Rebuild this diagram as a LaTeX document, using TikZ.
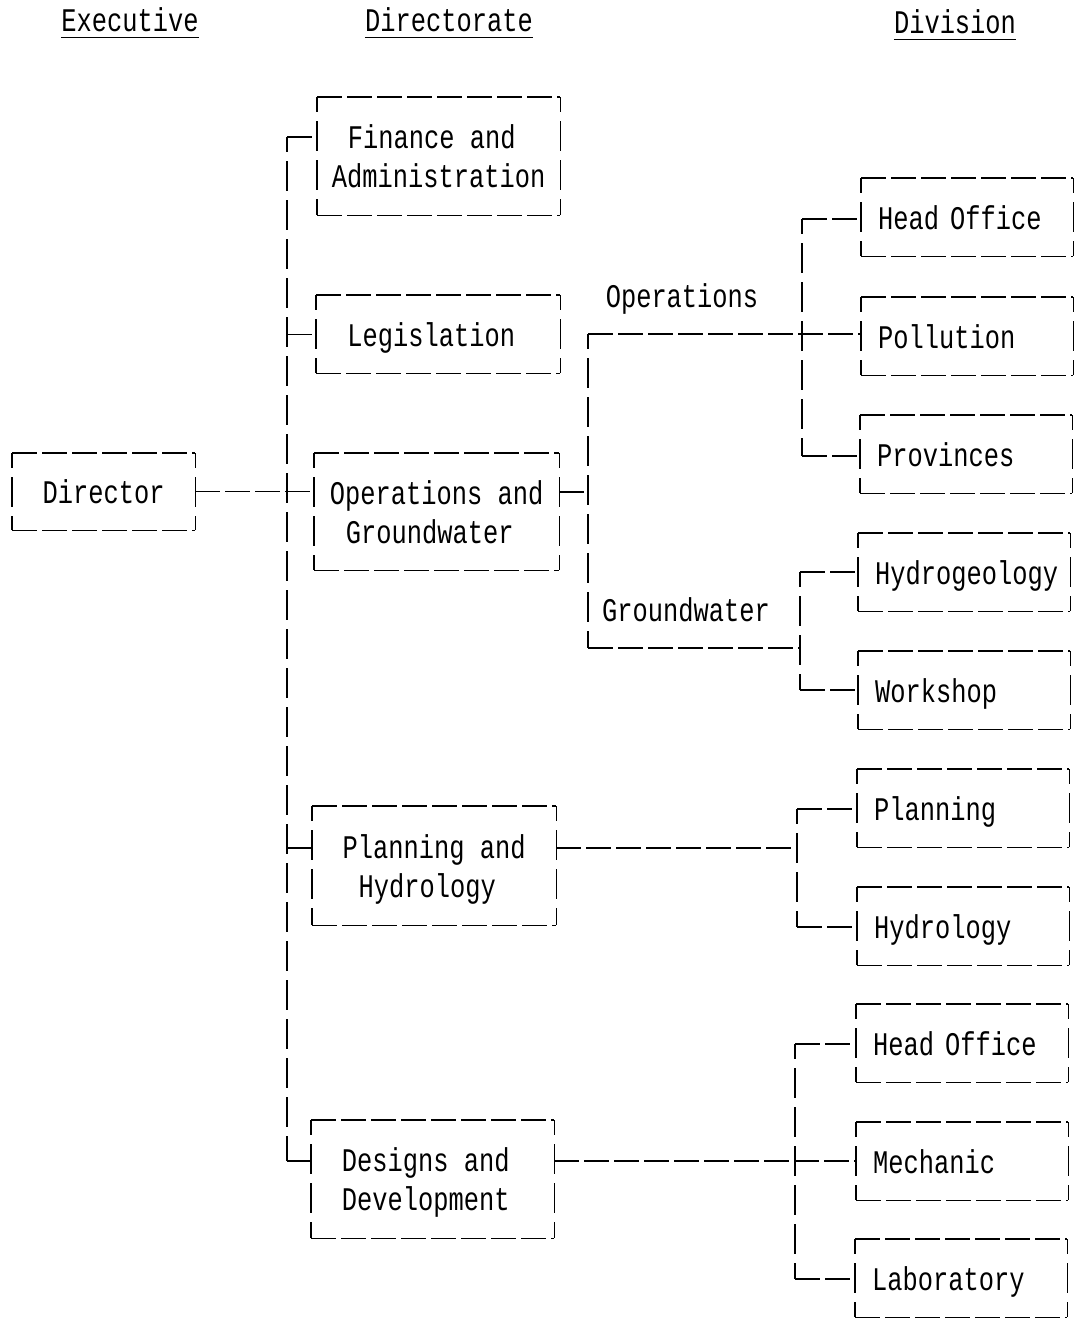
\documentclass[tikz,border=0pt]{standalone}
\usepackage{fontspec}
\newfontfamily\chartfont[FakeStretch=0.77]{Liberation Mono}
\usetikzlibrary{calc}
\newcommand{\lsh}{\hspace*{14pt}}
\begin{document}
\begin{tikzpicture}[x=1pt,y=-1pt,
  hd/.style={line width=1.3pt, dash pattern=on 25pt off 5pt},
  vd/.style={line width=1.3pt, dash pattern=on 30pt off 9pt, dash phase=15pt},
  txt/.style={font=\chartfont\fontsize{33}{39}\selectfont, inner sep=0pt, text depth=0pt},
  lbox/.style 2 args={txt, anchor=north west, minimum width=#1pt, minimum height=#2pt, align=center},
  rbox/.style={txt, anchor=north west, minimum width=212pt, minimum height=78pt, inner xsep=17pt, text width=178pt, align=left},
  head/.style={txt}]
\useasboundingbox (0,0) rectangle (1076,1318);
\fill[white] (0,0) rectangle (1076,1318);

% headers
\node[head] (hexe) at (130,20) {Executive};
\node[head] (hdir) at (449,20) {Directorate};
\node[head] (hdiv) at (955,22) {Division};
\foreach \h in {hexe,hdir,hdiv}
  \draw[line width=1.2pt] ([yshift=-5pt]\h.south west) -- ([yshift=-5pt]\h.south east);

% executive / directorate boxes
\node[lbox={183}{77}]  (dir) at (12,453)  {Director};
\node[lbox={243}{118}] (fin) at (317,97)  {Finance and\lsh\\Administration};
\node[lbox={244}{78}]  (leg) at (316,295) {Legislation\lsh};
\node[lbox={245}{117}] (ops) at (314,453) {Operations and\\Groundwater\lsh};
\node[lbox={244}{119}] (pla) at (312,806) {Planning and\\Hydrology\lsh};
\node[lbox={243}{118}] (des) at (311,1120) {Designs and\lsh\\Development\lsh};

% division boxes
\node[rbox] (r1)  at (861,178)  {Head Office};
\node[rbox] (r2)  at (861,297)  {Pollution};
\node[rbox] (r3)  at (860,415)  {Provinces};
\node[rbox] (r4)  at (858,533)  {Hydrogeology};
\node[rbox] (r5)  at (858,651)  {Workshop};
\node[rbox] (r6)  at (857,769)  {Planning};
\node[rbox] (r7)  at (857,887)  {Hydrology};
\node[rbox] (r8)  at (856,1004) {Head Office};
\node[rbox] (r9)  at (856,1122) {Mechanic};
\node[rbox] (r10) at (855,1239) {Laboratory};

\foreach \n in {dir,fin,leg,ops,pla,des,r1,r2,r3,r4,r5,r6,r7,r8,r9,r10} {
  \draw[hd] (\n.north west) -- (\n.north east);
  \draw[hd] (\n.south west) -- (\n.south east);
  \draw[vd] (\n.north west) -- (\n.south west);
  \draw[vd] (\n.north east) -- (\n.south east);
}

% section labels
\node[txt] (lop) at (682,296) {Operations};
\node[txt] (lgw) at (686,610) {Groundwater};

% trunk
\coordinate (j1) at (287,137);
\coordinate (j4) at (287,848);
\coordinate (j5) at (287,1161);
\draw[vd] (j1) -- (j5);
\draw[hd] (j1) -- (j1 -| fin.west);
\draw[hd] (leg.west -| j1) -- (leg.west);
\draw[hd] (dir.east) -- (dir.east -| ops.west);
\draw[hd] (j4) -- (j4 -| pla.west);
\draw[hd] (j5) -- (j5 -| des.west);

% operations / groundwater bracket
\coordinate (k0) at (588,334);
\coordinate (k1) at (588,648);
\coordinate (kc) at (588,492);
\draw[vd] (k0) -- (k1);
\draw[hd] (k0) -- (k0 -| r2.west);
\draw[hd] (kc -| ops.east) -- (kc);

% operations division
\coordinate (n0) at (802,219);
\coordinate (n1) at (802,456);
\draw[vd] (n0) -- (n1);
\draw[hd] (n0) -- (n0 -| r1.west);
\draw[hd] (n1) -- (n1 -| r3.west);

% groundwater division
\coordinate (m0) at (800,572);
\coordinate (m1) at (800,690);
\draw[vd] (m0) -- (m1);
\draw[hd] (k1) -- (k1 -| m0);
\draw[hd] (m0) -- (m0 -| r4.west);
\draw[hd] (m1) -- (m1 -| r5.west);

% planning division
\coordinate (p0) at (797,809);
\coordinate (p1) at (797,927);
\coordinate (pc) at (797,848);
\draw[vd] (p0) -- (p1);
\draw[hd] (pc -| pla.east) -- (pc);
\draw[hd] (p0) -- (p0 -| r6.west);
\draw[hd] (p1) -- (p1 -| r7.west);

% designs division
\coordinate (q0) at (795,1044);
\coordinate (q1) at (795,1279);
\coordinate (qc) at (795,1161);
\draw[vd] (q0) -- (q1);
\draw[hd] (qc -| des.east) -- (qc -| r9.west);
\draw[hd] (q0) -- (q0 -| r8.west);
\draw[hd] (q1) -- (q1 -| r10.west);
\end{tikzpicture}
\end{document}
